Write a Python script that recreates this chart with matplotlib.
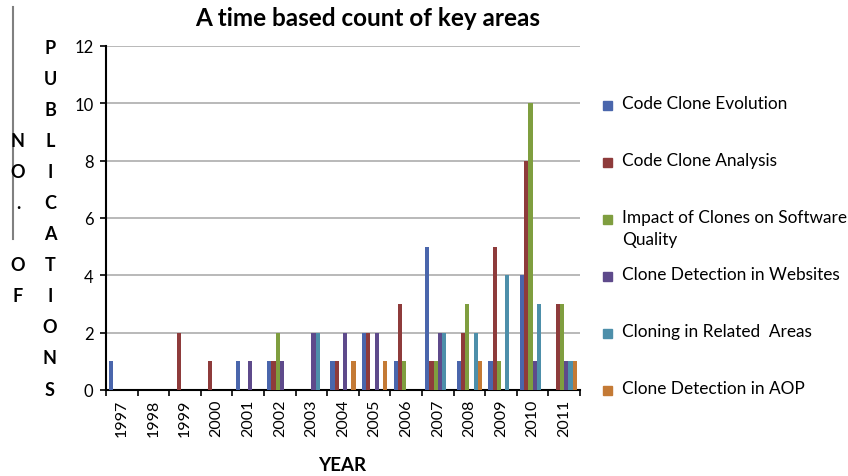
import numpy as np
import matplotlib
matplotlib.use("Agg")
import matplotlib.pyplot as plt
from matplotlib.patches import Rectangle
from matplotlib.lines import Line2D

plt.rcParams["font.family"] = ["Lato", "DejaVu Sans"]

# Données
years = ["1997", "1998", "1999", "2000", "2001", "2002", "2003", "2004",
         "2005", "2006", "2007", "2008", "2009", "2010", "2011"]

code_clone_evolution = [1, 0, 0, 0, 1, 1, 0, 1, 2, 1, 5, 1, 1, 4, 0]
code_clone_analysis = [0, 0, 2, 1, 0, 1, 0, 1, 2, 3, 1, 2, 5, 8, 3]
impact_on_quality = [0, 0, 0, 0, 0, 2, 0, 0, 0, 1, 1, 3, 1, 10, 3]
detection_websites = [0, 0, 0, 0, 1, 1, 2, 2, 2, 0, 2, 0, 0, 1, 1]
related_areas = [0, 0, 0, 0, 0, 0, 2, 0, 0, 0, 2, 2, 4, 3, 1]
detection_aop = [0, 0, 0, 0, 0, 0, 0, 1, 1, 0, 0, 1, 0, 0, 1]

series = [code_clone_evolution, code_clone_analysis, impact_on_quality,
          detection_websites, related_areas, detection_aop]

labels = ["Code Clone Evolution", "Code Clone Analysis",
          "Impact of Clones on Software\nQuality",
          "Clone Detection in Websites", "Cloning in Related  Areas",
          "Clone Detection in AOP"]

colors = ["#4A66AC", "#8E3B3B", "#7F9E3F", "#5E4A8B", "#4D8FAA", "#C47A35"]

y_ticks = [0, 2, 4, 6, 8, 10, 12]


fig = plt.figure(figsize=(8.48, 4.77), dpi=100)
ax = fig.add_axes([106 / 848, 1 - 391 / 477, 474 / 848, 344 / 477])

x = np.arange(len(years))
n = len(series)
width = 1 / (n + 1.5)

for i, values in enumerate(series):
    offset = -n * width / 2 + width * (i + 0.5)
    ax.bar(x + offset, values, width=width, color=colors[i],
           linewidth=0, zorder=3)

ax.set_xlim(-0.5, len(years) - 0.5)
ax.set_ylim(0, 12)

ax.set_yticks(y_ticks)
ax.yaxis.grid(True, color="#b3b3b3", linewidth=1.3, zorder=0)

ax.set_xticks(x)
ax.set_xticklabels(years, rotation=90, fontsize=11.5)
ax.set_xticks(np.arange(len(years) + 1) - 0.5, minor=True)
ax.tick_params(axis="x", which="major", length=0, pad=6)
ax.tick_params(axis="x", which="minor", length=4, width=1.2, direction="out")
ax.tick_params(axis="y", length=4, width=1.2, direction="out",
               labelsize=12, pad=5)

for side in ["top", "right"]:
    ax.spines[side].set_visible(False)
for side in ["left", "bottom"]:
    ax.spines[side].set_linewidth(1.5)
    ax.spines[side].set_color("black")

# Titre et libellés
fig.text(368 / 848, 1 - 18 / 477, "A time based count of key areas",
         ha="center", va="center", fontsize=17.5, fontweight="bold")

fig.text(342 / 848, 1 - 466 / 477, "YEAR",
         ha="center", va="center", fontsize=13.5, fontweight="bold")

# Libellé vertical de l'axe Y, une lettre par ligne
row_top = 48
row_step = 31.1
for k, letter in enumerate("PUBLICATIONS"):
    fig.text(50 / 848, 1 - (row_top + k * row_step) / 477, letter,
             ha="center", va="center", fontsize=13, fontweight="bold")

for k, letter in enumerate("NO. OF"):
    fig.text(18 / 848, 1 - (row_top + (k + 3) * row_step) / 477, letter,
             ha="center", va="center", fontsize=13, fontweight="bold")

fig.add_artist(Line2D([12.7 / 848, 12.7 / 848], [1 - 8 / 477, 1 - 240 / 477],
                      color="#808080", linewidth=1.5))

# Légende à droite
for i, label in enumerate(labels):
    y_pos = 106 + 57 * i
    fig.add_artist(Rectangle((603 / 848, 1 - (y_pos + 4.5) / 477),
                             9 / 848, 9 / 477, color=colors[i]))
    fig.text(622 / 848, 1 - (y_pos - 10) / 477, label,
             ha="left", va="top", fontsize=12.4, linespacing=1.45)

plt.savefig("out.png", dpi=100)
plt.close()
